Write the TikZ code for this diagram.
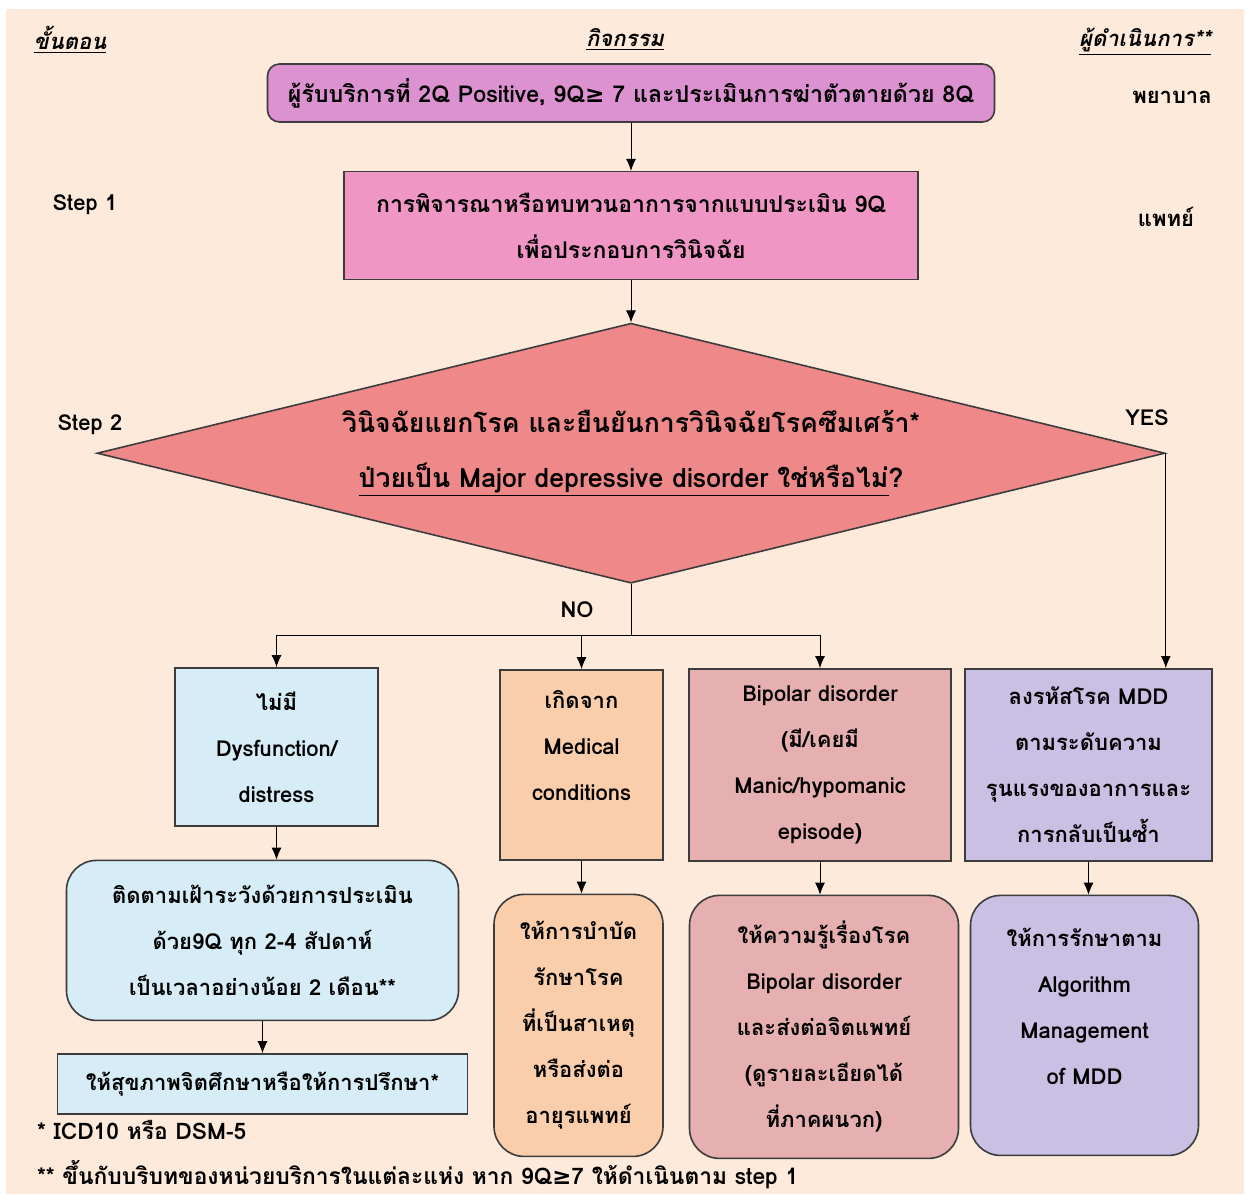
\documentclass[tikz,border=0pt]{standalone}
\usepackage{fontspec}
\setmainfont[Script=Thai]{Loma}
\newfontfamily\symfont{DejaVu Sans}
\usetikzlibrary{positioning,shapes.geometric,arrows.meta}
\definecolor{bgpeach}{RGB}{253,234,218}
\definecolor{linegray}{RGB}{60,60,60}
\definecolor{orchidfill}{RGB}{220,145,208}
\definecolor{pinkfill}{RGB}{240,150,196}
\definecolor{salmonfill}{RGB}{239,137,137}
\definecolor{bluefill}{RGB}{214,236,246}
\definecolor{peachfill}{RGB}{250,206,170}
\definecolor{rosefill}{RGB}{230,176,176}
\definecolor{lavfill}{RGB}{201,192,227}
\tikzset{
    box/.style = {
        draw = linegray,
        thick,
        align = center,
        inner sep = 0pt,
        font = \fontsize{11}{23}\selectfont\bfseries,
        },
    round box/.style = {
        box,
        rounded corners = 15pt,
        },
    decision/.style = {
        diamond,
        aspect = 4.1,
        draw = linegray,
        thick,
        fill = salmonfill,
        align = center,
        inner sep = 0pt,
        font = \fontsize{13.3}{27.5}\selectfont\bfseries,
        },
    header/.style = {
        font = \fontsize{11}{13}\selectfont\bfseries\itshape,
        },
    side/.style = {
        font = \fontsize{11}{13}\selectfont\bfseries,
        },
    note/.style = {
        anchor = west,
        font = \fontsize{11.4}{13}\selectfont\bfseries,
        },
}

\begin{document}
\begin{tikzpicture}[x=0.5pt, y=-0.5pt, ->, >={Latex[length=6pt,width=5pt]}, node distance=16.5pt]
            \useasboundingbox (0,0) rectangle (1247,1194);
            \fill[bgpeach] (6,9) rectangle (1244,1194);

            % column headers
            \node[header] (hstep) at (70,40) {\underline{ขั้นตอน}};
            \node[header] (hact) at (625,40) {\underline{กิจกรรม}};
            \node[header] (hwho) at (1145,42) {\underline{ผู้ดำเนินการ**}};

            % main flow
            \node[round box, rounded corners=6pt, fill=orchidfill, minimum width=363.5pt, minimum height=29pt, font=\fontsize{11.6}{13}\selectfont\bfseries] (client) at (631,93)
                {ผู้รับบริการที่ 2Q Positive, 9Q{\symfont ≥} 7 และประเมินการฆ่าตัวตายด้วย 8Q};
            \node[box, fill=pinkfill, minimum width=287pt, minimum height=54pt, below=24pt of client, font=\fontsize{11.5}{23}\selectfont\bfseries] (review)
                {การพิจารณาหรือทบทวนอาการจากแบบประเมิน 9Q\\เพื่อประกอบการวินิจฉัย};
            \node[decision, minimum width=534pt, minimum height=130pt, below=21pt of review] (mdd)
                {วินิจฉัยแยกโรค และยืนยันการวินิจฉัยโรคซึมเศร้า*\\\underline{ป่วยเป็น Major depressive disorder ใช่หรือไม่}?};

            \node[side] (nurse) at (1172,97) {พยาบาล};
            \node[side] (step1) at (85,205) {Step 1};
            \node[side] (doctor) at (1166,217) {แพทย์};
            \node[side] (step2) at (90,425) {Step 2};
            \node[side] (yes) at (1147,418) {YES};
            \node[side] (no) at (577,610) {NO};

            % first row
            \node[box, fill=bluefill, minimum width=101.5pt, minimum height=79pt, anchor=north] (nodys) at (276.5,667)
                {ไม่มี\\Dysfunction/\\distress};
            \node[box, fill=peachfill, minimum width=81.5pt, minimum height=95pt, anchor=north, text depth=19pt] (medical) at (581.5,669)
                {เกิดจาก\\Medical\\conditions};
            \node[box, fill=rosefill, minimum width=131pt, minimum height=96pt, anchor=north] (bipolar) at (820,668)
                {Bipolar disorder\\(มี/เคยมี\\Manic/hypomanic\\episode)};
            \node[box, fill=lavfill, minimum width=123.5pt, minimum height=96pt, anchor=north] (code) at (1088.5,668)
                {ลงรหัสโรค MDD\\ตามระดับความ\\รุนแรงของอาการและ\\การกลับเป็นซ้ำ};

            % second row
            \node[round box, fill=bluefill, minimum width=196pt, minimum height=80pt, below=of nodys, xshift=-7pt] (follow)
                {ติดตามเฝ้าระวังด้วยการประเมิน\\ด้วย9Q ทุก 2-4 สัปดาห์\\เป็นเวลาอย่างน้อย 2 เดือน**};
            \node[box, fill=bluefill, minimum width=205pt, minimum height=30pt, below=16pt of follow] (educate)
                {ให้สุขภาพจิตศึกษาหรือให้การปรึกษา*};
            \node[round box, fill=peachfill, minimum width=84.5pt, minimum height=131pt, below=of medical, xshift=-1.5pt] (treat)
                {ให้การบำบัด\\รักษาโรค\\ที่เป็นสาเหตุ\\หรือส่งต่อ\\อายุรแพทย์};
            \node[round box, fill=rosefill, minimum width=134.5pt, minimum height=131.5pt, below=of bipolar, xshift=2pt] (refer)
                {ให้ความรู้เรื่องโรค\\Bipolar disorder\\และส่งต่อจิตแพทย์\\(ดูรายละเอียดได้\\ที่ภาคผนวก)};
            \node[round box, fill=lavfill, minimum width=114pt, minimum height=130pt, below=of code, xshift=-2pt, text depth=19pt] (algo)
                {ให้การรักษาตาม\\Algorithm\\Management\\of MDD};

            % footnotes
            \node[note] (fn1) at (30,1130) {* ICD10 หรือ DSM-5};
            \node[note] (fn2) at (30,1175) {** ขึ้นกับบริบทของหน่วยบริการในแต่ละแห่ง หาก 9Q{\symfont ≥}7 ให้ดำเนินตาม step 1};

            % connectors
            \path (client) edge (review);
            \path (review) edge (mdd);
            \coordinate (split) at (mdd.south |- 0,635);
            \draw[-] (mdd.south) -- (split);
            \draw[-] (split -| nodys) -- (split -| bipolar);
            \path (split -| nodys) edge (nodys);
            \path (split -| medical) edge (medical);
            \path (split -| bipolar) edge (bipolar);
            \draw (mdd.east) -- (mdd.east |- code.north);
            \path (nodys) edge (nodys |- follow.north);
            \path (follow) edge (educate);
            \path (medical) edge (medical |- treat.north);
            \path (bipolar) edge (bipolar |- refer.north);
            \path (code) edge (code |- algo.north);
\end{tikzpicture}
\end{document}
